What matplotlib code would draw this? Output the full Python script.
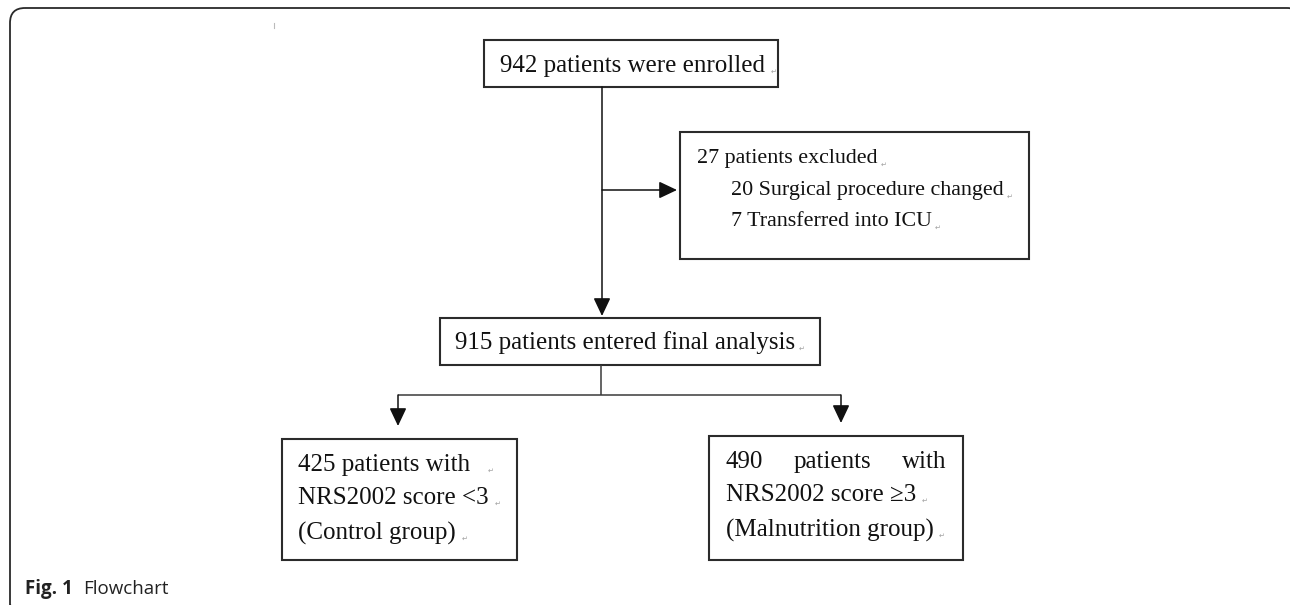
import matplotlib.pyplot as plt
from matplotlib.patches import Rectangle, FancyBboxPatch

# counts shown in the flowchart
n_enrolled = 942
n_excluded = 27
n_surgery_changed = 20
n_icu = 7
n_final = 915
n_control = 425
n_malnutrition = 490

enrolled_text = f'{n_enrolled} patients were enrolled'
excluded_lines = [f'{n_excluded} patients excluded',
                  f'{n_surgery_changed} Surgical procedure changed',
                  f'{n_icu} Transferred into ICU']
final_text = f'{n_final} patients entered final analysis'
control_lines = [f'{n_control} patients with', 'NRS2002 score <3', '(Control group)']
malnutrition_words = [str(n_malnutrition), 'patients', 'with']
malnutrition_lines = ['NRS2002 score \u22653', '(Malnutrition group)']
caption_bold = 'Fig. 1'
caption_text = 'Flowchart'

# layout in pixels (x0, y0, x1, y1), y grows downwards
BOX_TOP = (484, 40, 778, 87)
BOX_EXCL = (680, 132, 1029, 259)
BOX_FINAL = (440, 318, 820, 365)
BOX_LEFT = (282, 439, 517, 560)
BOX_RIGHT = (709, 436, 963, 560)

SERIF = 'Liberation Serif'
LINE_C = '#3a3a3a'
MARK_C = '#a0a0a0'

fig = plt.figure(figsize=(12.9, 6.05), dpi=100)
ax = fig.add_axes([0, 0, 1, 1])
ax.set_xlim(0, 1290)
ax.set_ylim(605, 0)
ax.axis('off')

# outer rounded frame (runs off the right and bottom edges)
ax.add_patch(FancyBboxPatch((10, 8), 1292, 612, boxstyle='round,pad=0,rounding_size=15',
                            fill=False, ec='#2a2a2a', lw=1.3))
ax.plot([274, 274], [23, 28], color='#bbbbbb', lw=0.8)


def box(b):
    x0, y0, x1, y1 = b
    ax.add_patch(Rectangle((x0, y0), x1 - x0, y1 - y0, fill=False, ec='#2b2b2b', lw=1.5))


def arrow(x0, y0, x1, y1):
    ax.annotate('', xy=(x1, y1), xytext=(x0, y0),
                arrowprops=dict(arrowstyle='-|>,head_length=0.55,head_width=0.26',
                                mutation_scale=20, lw=1.1, color='#111111',
                                shrinkA=0, shrinkB=0))


def line(xs, ys):
    ax.plot(xs, ys, color=LINE_C, lw=1.1, solid_capstyle='butt')


for b in [BOX_TOP, BOX_EXCL, BOX_FINAL, BOX_LEFT, BOX_RIGHT]:
    box(b)

# connectors
arrow(602, 87, 602, 316)
arrow(602, 190, 677, 190)
line([601, 601], [365, 395])
line([398, 841], [395, 395])
arrow(398, 395, 398, 426)
arrow(841, 395, 841, 423)

texts = []  # (text artist, gap before paragraph mark)
kw = dict(family=SERIF, color='#111111', va='center', ha='left')

texts.append((ax.text(500, 66, enrolled_text, fontsize=18, **kw), 9))
for t, x, y in zip(excluded_lines, [697, 731, 731], [159, 191, 222]):
    texts.append((ax.text(x, y, t, fontsize=15.8, **kw), 6))
texts.append((ax.text(455, 343, final_text, fontsize=18, **kw), 6))
for t, y, g in zip(control_lines, [465, 498, 533], [20, 9, 9]):
    texts.append((ax.text(298, y, t, fontsize=18, **kw), g))

# justified first line of the malnutrition box
ax.text(726, 462, malnutrition_words[0], fontsize=18, **kw)
ax.text(832, 462, malnutrition_words[1], fontsize=18, **{**kw, 'ha': 'center'})
ax.text(946, 462, malnutrition_words[2], fontsize=18, **{**kw, 'ha': 'right'})
for t, y in zip(malnutrition_lines, [495, 530]):
    texts.append((ax.text(726, y, t, fontsize=18, **kw), 8))

# small paragraph marks after each line
fig.canvas.draw()
renderer = fig.canvas.get_renderer()
inv = ax.transData.inverted()
for t, gap in texts:
    bb = t.get_window_extent(renderer)
    x_end, _ = inv.transform((bb.x1, bb.y0))
    _, y_base = t.get_position()
    ax.text(x_end + gap, y_base + 6, '\u21b5', fontsize=5, color=MARK_C,
            family='DejaVu Sans', ha='center', va='center')

# caption
cap = ax.text(25, 589, caption_bold, fontsize=13.5, fontweight='bold',
              family='Open Sans', color='#222222', va='center', ha='left')
fig.canvas.draw()
bb = cap.get_window_extent(fig.canvas.get_renderer())
x_end, _ = inv.transform((bb.x1, bb.y0))
ax.text(x_end + 10, 589, caption_text, fontsize=13.5, family='Open Sans',
        color='#222222', va='center', ha='left')

fig.savefig('out.png', dpi=100)
